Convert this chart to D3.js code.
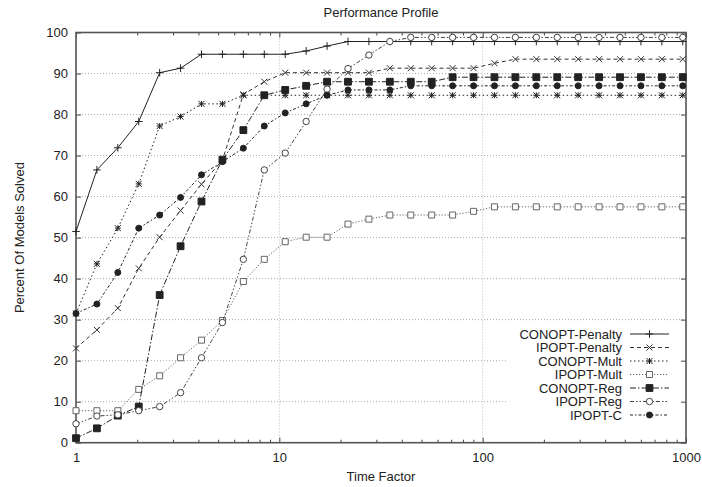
<!DOCTYPE html>
<html>
<head>
<meta charset="utf-8">
<script src="https://cdn.jsdelivr.net/npm/d3@7"></script>
<style>
  html, body { margin: 0; padding: 0; background: #fff; }
  svg { display: block; }
  text { font-family: "Liberation Sans", Arial, Helvetica, sans-serif; fill: #222; }
</style>
</head>
<body>
<svg id="chart" width="702" height="487"></svg>
<script>
// ---- data ----
const timeFactors = [1, 1.267, 1.606, 2.035, 2.579, 3.268, 4.142, 5.250, 6.654, 8.434,
  10.69, 13.55, 17.17, 21.76, 27.58, 34.95, 44.30, 56.15, 71.16, 90.19,
  114.3, 144.9, 183.6, 232.7, 294.9, 373.8, 473.7, 600.4, 760.9, 964.0];

const conoptPenalty = [51.5, 66.5, 71.9, 78.3, 90.2, 91.3, 94.7, 94.7, 94.7, 94.7,
  94.7, 95.5, 96.7, 97.8, 97.8, 97.8, 97.8, 97.8, 97.8, 97.8,
  97.8, 97.8, 97.8, 97.8, 97.8, 97.8, 97.8, 97.8, 97.8, 97.8];
const ipoptPenalty = [23.0, 27.5, 32.8, 42.5, 50.1, 56.6, 63.0, 68.9, 84.9, 88.0,
  90.2, 90.2, 90.2, 90.2, 90.2, 91.3, 91.3, 91.3, 91.3, 91.3,
  92.5, 93.5, 93.5, 93.5, 93.5, 93.5, 93.5, 93.5, 93.5, 93.5];
const conoptMult = [31.5, 43.6, 52.3, 63.1, 77.2, 79.5, 82.6, 82.6, 84.7, 84.7,
  84.7, 84.7, 84.7, 84.7, 84.7, 84.7, 84.7, 84.7, 84.7, 84.7,
  84.7, 84.7, 84.7, 84.7, 84.7, 84.7, 84.7, 84.7, 84.7, 84.7];
const ipoptMult = [7.8, 7.8, 7.8, 13.0, 16.3, 20.7, 25.0, 29.8, 39.3, 44.7,
  49.0, 50.1, 50.1, 53.3, 54.5, 55.5, 55.5, 55.5, 55.5, 56.4,
  57.5, 57.5, 57.5, 57.5, 57.5, 57.5, 57.5, 57.5, 57.5, 57.5];
const conoptReg = [1.1, 3.5, 6.6, 8.8, 36.0, 47.9, 58.8, 69.0, 76.2, 84.7,
  86.0, 87.0, 88.0, 88.0, 88.0, 88.0, 88.0, 88.0, 89.1, 89.1,
  89.1, 89.1, 89.1, 89.1, 89.1, 89.1, 89.1, 89.1, 89.1, 89.1];
const ipoptReg = [4.6, 6.5, 6.8, 7.8, 8.8, 12.2, 20.7, 29.3, 44.7, 66.5,
  70.6, 78.3, 86.2, 91.2, 94.5, 97.8, 98.8, 98.8, 98.8, 98.8,
  98.8, 98.8, 98.8, 98.8, 98.8, 98.8, 98.8, 98.8, 98.8, 98.8];
const ipoptC = [31.5, 33.8, 41.5, 52.3, 55.5, 59.8, 65.3, 68.5, 71.8, 77.2,
  80.4, 82.6, 84.7, 86.0, 86.0, 86.0, 87.0, 87.0, 87.0, 87.0,
  87.0, 87.0, 87.0, 87.0, 87.0, 87.0, 87.0, 87.0, 87.0, 87.0];

const seriesNames = ["CONOPT-Penalty", "IPOPT-Penalty", "CONOPT-Mult", "IPOPT-Mult",
  "CONOPT-Reg", "IPOPT-Reg", "IPOPT-C"];
const seriesValues = [conoptPenalty, ipoptPenalty, conoptMult, ipoptMult, conoptReg, ipoptReg, ipoptC];

const xTickValues = [1, 10, 100, 1000];
const yTickValues = [0, 10, 20, 30, 40, 50, 60, 70, 80, 90, 100];

const titleText = "Performance Profile";
const xLabel = "Time Factor";
const yLabel = "Percent Of Models Solved";

// ---- styles ----
const styles = [
  { dash: null, marker: "plus", color: "#222" },
  { dash: "4,3", marker: "cross", color: "#333" },
  { dash: "1.5,2.5", marker: "star", color: "#222" },
  { dash: "1.2,1.8", marker: "square", color: "#666" },
  { dash: "6,2,1.5,2", marker: "squareFilled", color: "#222" },
  { dash: "4,2,1.5,2,1.5,2", marker: "circle", color: "#444" },
  { dash: "3,2,1.5,2", marker: "circleFilled", color: "#222" }
];

// ---- layout ----
const W = 702, H = 487;
const plot = { left: 76, right: 686, top: 32.5, bottom: 442.7 };
const svg = d3.select("#chart");

const x = d3.scaleLog().domain([1, 1000]).range([plot.left, plot.right]);
const y = d3.scaleLinear().domain([0, 100]).range([plot.bottom, plot.top]);

// grid
const grid = svg.append("g");
grid.selectAll("line.hg").data(yTickValues.filter(v => v > 0 && v < 100)).join("line")
  .attr("x1", plot.left).attr("x2", plot.right)
  .attr("y1", d => y(d)).attr("y2", d => y(d))
  .attr("stroke", "#aaa").attr("stroke-width", 1).attr("stroke-dasharray", "1,2");
grid.selectAll("line.vg").data(xTickValues.filter(v => v > 1 && v < 1000)).join("line")
  .attr("x1", d => x(d)).attr("x2", d => x(d))
  .attr("y1", plot.top).attr("y2", plot.bottom)
  .attr("stroke", "#bbb").attr("stroke-width", 1).attr("stroke-dasharray", "1,2");

// legend background (covers grid)
svg.append("rect").attr("x", 507).attr("y", 326).attr("width", 176).attr("height", 96).attr("fill", "#fff");

// axes with d3 axis generators
const minorTicks = [];
[1, 10, 100].forEach(dec => { for (let m = 2; m <= 9; m++) minorTicks.push(dec * m); });

function styleAxis(g) {
  g.select(".domain").remove();
  g.selectAll(".tick line").attr("stroke", "#444").attr("stroke-width", 1);
  g.selectAll(".tick text").attr("font-size", 13).attr("fill", "#222")
    .attr("font-family", "Liberation Sans, Arial, sans-serif");
}
// bottom major
svg.append("g").attr("transform", `translate(0,${plot.bottom})`)
  .call(d3.axisBottom(x).tickValues(xTickValues).tickFormat(d3.format("d")).tickSizeInner(-5).tickSizeOuter(0).tickPadding(10))
  .call(styleAxis);
// bottom minor
svg.append("g").attr("transform", `translate(0,${plot.bottom})`)
  .call(d3.axisBottom(x).tickValues(minorTicks).tickFormat("").tickSizeInner(-3).tickSizeOuter(0))
  .call(styleAxis);
// top major/minor
svg.append("g").attr("transform", `translate(0,${plot.top})`)
  .call(d3.axisTop(x).tickValues(xTickValues).tickFormat("").tickSizeInner(-5).tickSizeOuter(0))
  .call(styleAxis);
svg.append("g").attr("transform", `translate(0,${plot.top})`)
  .call(d3.axisTop(x).tickValues(minorTicks).tickFormat("").tickSizeInner(-3).tickSizeOuter(0))
  .call(styleAxis);
// left
svg.append("g").attr("transform", `translate(${plot.left},0)`)
  .call(d3.axisLeft(y).tickValues(yTickValues).tickFormat(d3.format("d")).tickSizeInner(-5).tickSizeOuter(0).tickPadding(8))
  .call(styleAxis);
// right
svg.append("g").attr("transform", `translate(${plot.right},0)`)
  .call(d3.axisRight(y).tickValues(yTickValues).tickFormat("").tickSizeInner(-5).tickSizeOuter(0))
  .call(styleAxis);

// frame
svg.append("rect")
  .attr("x", plot.left).attr("y", plot.top)
  .attr("width", plot.right - plot.left).attr("height", plot.bottom - plot.top)
  .attr("fill", "none").attr("stroke", "#555").attr("stroke-width", 1.6);

// marker path generator
function markerPath(type, cx, cy) {
  const p = d3.path();
  if (type === "plus") {
    const s = 3.8;
    p.moveTo(cx - s, cy); p.lineTo(cx + s, cy);
    p.moveTo(cx, cy - s); p.lineTo(cx, cy + s);
  } else if (type === "cross") {
    const s = 3;
    p.moveTo(cx - s, cy - s); p.lineTo(cx + s, cy + s);
    p.moveTo(cx - s, cy + s); p.lineTo(cx + s, cy - s);
  } else if (type === "star") {
    const s = 3;
    p.moveTo(cx - s, cy - s); p.lineTo(cx + s, cy + s);
    p.moveTo(cx - s, cy + s); p.lineTo(cx + s, cy - s);
    p.moveTo(cx - s, cy); p.lineTo(cx + s, cy);
    p.moveTo(cx, cy - s); p.lineTo(cx, cy + s);
  } else if (type === "square" || type === "squareFilled") {
    const s = type === "square" ? 3 : 3.4;
    p.rect(cx - s, cy - s, 2 * s, 2 * s);
  } else if (type === "circle" || type === "circleFilled") {
    const r = type === "circle" ? 3.2 : 3;
    p.moveTo(cx + r, cy); p.arc(cx, cy, r, 0, 2 * Math.PI);
  }
  return p.toString();
}
function markerFill(type, color) {
  return (type === "squareFilled" || type === "circleFilled") ? color : (type === "square" || type === "circle" ? "#fff" : "none");
}

const lineGen = d3.line().x(d => x(d[0])).y(d => y(d[1]));

// series
seriesValues.forEach((vals, i) => {
  const st = styles[i];
  const pts = timeFactors.map((t, j) => [t, vals[j]]);
  const g = svg.append("g");
  g.append("path").datum(pts).attr("d", lineGen)
    .attr("fill", "none").attr("stroke", st.color).attr("stroke-width", 1)
    .attr("stroke-dasharray", st.dash);
  g.selectAll("path.m").data(pts).join("path").attr("class", "m")
    .attr("d", d => markerPath(st.marker, x(d[0]), y(d[1])))
    .attr("fill", markerFill(st.marker, st.color))
    .attr("stroke", st.color).attr("stroke-width", 1);
});

// legend
const legendRight = 622, legendTop = 334, legendStep = 13.5;
const lg = svg.append("g");
seriesNames.forEach((name, i) => {
  const st = styles[i];
  const yy = legendTop + i * legendStep;
  lg.append("text").attr("x", legendRight).attr("y", yy + 4.5)
    .attr("text-anchor", "end").attr("font-size", 13).text(name);
  lg.append("line").attr("x1", 630).attr("x2", 669).attr("y1", yy).attr("y2", yy)
    .attr("stroke", st.color).attr("stroke-width", 1).attr("stroke-dasharray", st.dash);
  lg.append("path").attr("d", markerPath(st.marker, 649.5, yy))
    .attr("fill", markerFill(st.marker, st.color)).attr("stroke", st.color).attr("stroke-width", 1);
});

// titles
svg.append("text").attr("x", (plot.left + plot.right) / 2).attr("y", 17)
  .attr("text-anchor", "middle").attr("font-size", 13).text(titleText);
svg.append("text").attr("x", (plot.left + plot.right) / 2).attr("y", 481)
  .attr("text-anchor", "middle").attr("font-size", 13).text(xLabel);
svg.append("text").attr("transform", `translate(24,${(plot.top + plot.bottom) / 2}) rotate(-90)`)
  .attr("text-anchor", "middle").attr("font-size", 13).text(yLabel);
</script>
</body>
</html>
